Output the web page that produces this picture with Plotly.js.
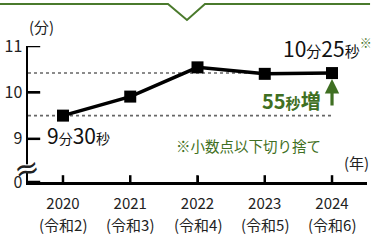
<!DOCTYPE html>
<html>
<head>
<meta charset="utf-8">
<script src="https://cdn.plot.ly/plotly-3.0.1.min.js"></script>
<style>html,body{margin:0;padding:0;background:#fff;}#chart{width:383px;height:242px;}</style>
</head>
<body>
<div id="chart"></div>
<script>
// ---- data ----
const years = ['2020', '2021', '2022', '2023', '2024'];
const reiwa = ['(令和2)', '(令和3)', '(令和4)', '(令和5)', '(令和6)'];
const minutes = [9.5, 9.91, 10.54, 10.40, 10.4167]; // 9分30秒 ... 10分25秒
const yTickVals = [8.07, 9, 10, 11];
const yTickText = ['0', '9', '10', '11'];

const xIdx = years.map((_, i) => i);
const first = minutes[0], last = minutes[minutes.length - 1];
const lastIdx = xIdx[xIdx.length - 1];

const GREEN = '#3f6f22';
const TXT = '#222';
const FONT = '"Noto Sans CJK JP", "Noto Sans", sans-serif';

const trace = {
  x: xIdx, y: minutes, type: 'scatter', mode: 'lines+markers',
  line: {color: '#000', width: 3.5},
  marker: {symbol: 'square', size: 12, color: '#000'},
  hoverinfo: 'skip', cliponaxis: false
};

const shapes = [
  // reference dotted lines
  {type: 'line', xref: 'x', yref: 'y', x0: -0.52, x1: lastIdx, y0: last, y1: last,
   line: {color: '#666', width: 1.6, dash: 'dot'}, layer: 'below'},
  {type: 'line', xref: 'x', yref: 'y', x0: -0.52, x1: lastIdx, y0: first, y1: first,
   line: {color: '#666', width: 1.6, dash: 'dot'}, layer: 'below'},
  // top decorative green line with notch
  {type: 'path', xref: 'paper', yref: 'paper',
   path: 'M -0.0826 1.309 L 0.413 1.309 L 0.469 1.191 L 0.522 1.309 L 1.009 1.309',
   line: {color: '#4a7a2c', width: 2}}
]
// inward tick marks (y axis)
.concat(yTickVals.map(v => ({type: 'line', xref: 'paper', yref: 'y', x0: 0, x1: 0.036, y0: v, y1: v,
   line: {color: '#000', width: 2.5}})))
// inward tick marks (x axis)
.concat(xIdx.map(v => ({type: 'line', xref: 'x', yref: 'paper', x0: v, x1: v, y0: 0, y1: 0.05,
   line: {color: '#000', width: 2.5}})))
.concat([
  // white gap on axis for the break
  {type: 'rect', xref: 'paper', yref: 'paper', x0: -0.012, x1: 0.012, y0: 0.075, y1: 0.13,
   fillcolor: '#fff', line: {width: 0}}
]);

const annotations = [
  {xref: 'paper', yref: 'paper', x: 0.041, y: 1.14, xanchor: 'center', yanchor: 'middle',
   text: '(分)', showarrow: false, font: {size: 15, color: TXT, family: FONT}},
  {xref: 'paper', yref: 'paper', x: 0.97, y: 0.14, xanchor: 'center', yanchor: 'middle',
   text: '(年)', showarrow: false, font: {size: 15, color: TXT, family: FONT}},
  // axis break symbol
  {xref: 'paper', yref: 'paper', x: -0.005, y: 0.10, xanchor: 'center', yanchor: 'middle',
   text: '≈', showarrow: false, textangle: -15,
   font: {size: 30, color: TXT, family: 'DejaVu Sans'}},
  {xref: 'x', yref: 'y', x: -0.27, y: 9.09, xanchor: 'left', yanchor: 'middle', showarrow: false,
   text: '<span style="font-size:21px">9</span><span style="font-size:14px">分</span><span style="font-size:21px">30</span><span style="font-size:14px">秒</span>',
   font: {size: 21, color: '#111', family: FONT}},
  {xref: 'paper', yref: 'paper', x: 1.022, y: 0.985, xanchor: 'right', yanchor: 'middle', showarrow: false,
   text: '<span style="font-size:21px">10</span><span style="font-size:15px">分</span><span style="font-size:21px">25</span><span style="font-size:15px">秒</span><sup><span style="color:' + GREEN + ';font-size:12px">※</span></sup>',
   font: {size: 21, color: '#111', family: FONT}},
  {xref: 'x', yref: 'y', x: 3.86, y: 9.82, xanchor: 'right', yanchor: 'middle', showarrow: false,
   text: '<b><span style="font-size:20px">55</span><span style="font-size:15px">秒</span><span style="font-size:20px">増</span></b>',
   font: {size: 20, color: GREEN, family: FONT}},
  {xref: 'x', yref: 'y', x: lastIdx, y: last, ax: lastIdx, ay: first, axref: 'x', ayref: 'y',
   text: ' ', showarrow: true, arrowhead: 2, arrowsize: 0.9, arrowwidth: 3.2, arrowcolor: GREEN, standoff: 6},
  {xref: 'paper', yref: 'paper', x: 0.65, y: 0.27, xanchor: 'center', yanchor: 'middle',
   text: '※小数点以下切り捨て', showarrow: false, font: {size: 14.5, color: GREEN, family: FONT}}
].concat(reiwa.map((r, i) => ({
  xref: 'x', yref: 'paper', x: xIdx[i], y: -0.316, xanchor: 'center', yanchor: 'middle',
  text: r, showarrow: false, font: {size: 15, color: TXT, family: FONT}
})));

const layout = {
  width: 383, height: 242,
  margin: {l: 28, r: 16, t: 46, b: 60, pad: 0},
  paper_bgcolor: '#fff', plot_bgcolor: '#fff',
  showlegend: false,
  font: {family: FONT, color: TXT},
  xaxis: {
    range: [-0.52, 4.52], tickvals: xIdx, ticktext: years,
    showline: true, linecolor: '#000', linewidth: 2.5,
    ticks: 'inside', ticklen: 6, tickwidth: 2, tickcolor: '#000',
    ticklabelstandoff: 6,
    showgrid: false, zeroline: false,
    tickfont: {size: 15, color: TXT, family: FONT}, fixedrange: true
  },
  yaxis: {
    range: [8.07, 11.0], tickvals: yTickVals, ticktext: yTickText,
    showline: true, linecolor: '#000', linewidth: 2.5,
    ticks: 'inside', ticklen: 12, tickwidth: 2, tickcolor: '#000',
    showgrid: false, zeroline: false,
    tickfont: {size: 16, color: TXT, family: FONT}, fixedrange: true
  },
  shapes: shapes,
  annotations: annotations
};

Plotly.newPlot('chart', [trace], layout, {displayModeBar: false, staticPlot: true});
</script>
</body>
</html>
